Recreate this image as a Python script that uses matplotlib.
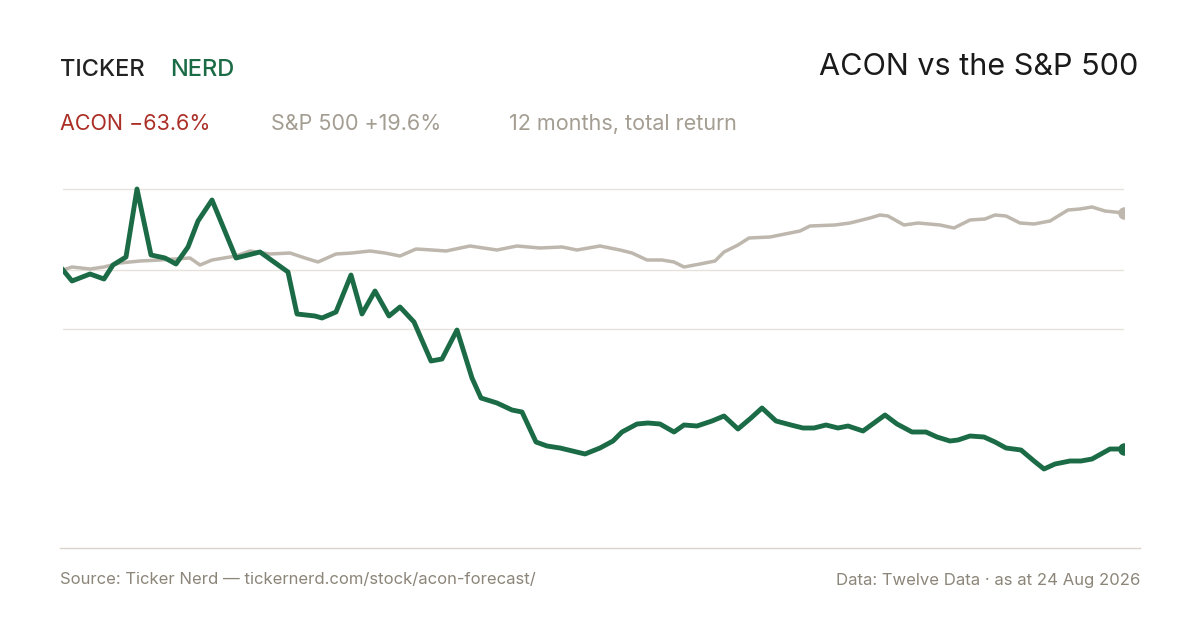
import matplotlib.pyplot as plt
import numpy as np

# day of year (0..365) and total return in %
acon_px = [63,72,90,104,113,126,137,151,165,176,188,198,212,236,260,288,297,315,322,336,351,362,375,389,400,414,431,442,457,472,481,497,512,522,536,547,560,585,600,613,622,637,648,660,674,684,697,712,724,738,751,762,776,791,803,814,826,838,848,863,885,897,912,926,937,950,958,970,984,995,1006,1021,1034,1044,1055,1070,1081,1092,1110,1124]
acon_py = [270,281,274,279,265,257,189,255,258,264,247,221,200,258,252,272,314,316,318,312,275,314,291,316,307,322,361,359,330,378,398,403,410,412,442,446,448,454,448,441,432,424,423,424,432,425,426,421,416,429,418,408,421,425,428,428,425,428,426,431,415,424,432,432,437,441,440,436,437,442,448,450,461,469,464,461,461,459,449,449]
spx_px = [63,72,90,104,120,140,160,190,200,212,236,250,270,290,305,318,336,352,370,385,400,416,432,446,470,497,517,540,562,577,600,620,632,647,662,674,684,700,715,724,738,749,770,800,810,835,850,870,880,888,904,918,940,954,970,985,995,1006,1020,1034,1050,1068,1080,1092,1105,1124]
spx_py = [270,267,269,267,263,261,260,258,265,260,256,251,254,253,258,262,254,253,251,253,256,249,250,251,246,250,246,248,247,250,246,250,253,260,260,262,267,264,261,252,245,238,237,231,226,225,223,218,215,216,225,223,225,228,220,219,215,216,223,224,221,210,209,207,211,213]

PX_PER_PCT = 2.83
acon_days = [(x - 63) / 1061 * 365 for x in acon_px]
acon_ret = [(270 - y) / PX_PER_PCT for y in acon_py]
spx_days = [(x - 63) / 1061 * 365 for x in spx_px]
spx_ret = [(270 - y) / PX_PER_PCT for y in spx_py]
grid_vals = [(270 - y) / PX_PER_PCT for y in (189, 270, 329)]

green = '#1b6b46'
red = '#ab2f26'
gray = '#bdb7ad'
txtgray = '#8c8579'

plt.rcParams['font.family'] = ['Inter', 'DejaVu Sans']
fig = plt.figure(figsize=(12, 6.3), dpi=100)
W, H = 1200, 630
ax = fig.add_axes([63 / W, 1 - 548 / H, (1124 - 63) / W, (548 - 160) / H])
ax.set_xlim(0, 365)
ax.set_ylim((270 - 548) / PX_PER_PCT, (270 - 160) / PX_PER_PCT)
for g in grid_vals:
    ax.axhline(g, color='#e6e3dd', lw=1, zorder=0)
ax.plot(spx_days, spx_ret, color=gray, lw=2.5, solid_joinstyle='round')
ax.plot(acon_days, acon_ret, color=green, lw=3.5, solid_joinstyle='round')
ax.plot(spx_days[-1], spx_ret[-1], 'o', color=gray, ms=8)
ax.plot(acon_days[-1], acon_ret[-1], 'o', color=green, ms=8)
ax.axis('off')

fig.add_artist(plt.Line2D([60 / W, 1140 / W], [1 - 548 / H] * 2, color='#d9d5cd', lw=1))

fig.text(60 / W, 1 - 70 / H, 'TICKER', fontsize=17, color='#222222', va='center', fontweight='medium')
fig.text(170 / W, 1 - 70 / H, 'NERD', fontsize=17, color=green, va='center', fontweight='medium')
fig.text(1138 / W, 1 - 67 / H, 'ACON vs the S&P 500', fontsize=22, color='#1a1a1a', ha='right', va='center')
fig.text(60 / W, 1 - 124 / H, 'ACON −63.6%', fontsize=15.5, color=red, va='center')
fig.text(271 / W, 1 - 124 / H, 'S&P 500 +19.6%', fontsize=15.5, color='#a39d92', va='center')
fig.text(509 / W, 1 - 124 / H, '12 months, total return', fontsize=15.5, color='#a39d92', va='center')
fig.text(60 / W, 1 - 580 / H, 'Source: Ticker Nerd — tickernerd.com/stock/acon-forecast/', fontsize=12, color=txtgray, va='center')
fig.text(1140 / W, 1 - 580 / H, 'Data: Twelve Data · as at 24 Aug 2026', fontsize=12, color=txtgray, ha='right', va='center')

fig.savefig('out.png', dpi=100, facecolor='white')
